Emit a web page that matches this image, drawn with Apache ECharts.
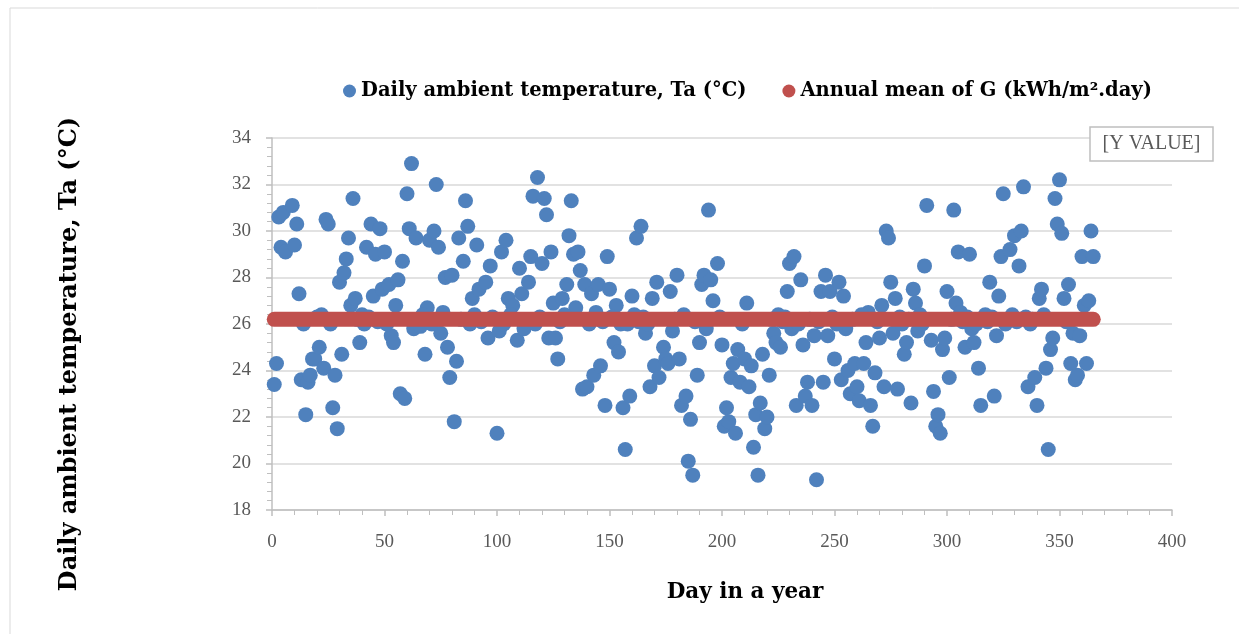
<!DOCTYPE html>
<html>
<head>
<meta charset="utf-8">
<title>Daily ambient temperature</title>
<script src="https://cdn.jsdelivr.net/npm/echarts@6/dist/echarts.min.js"></script>
<style>
  html, body { margin: 0; padding: 0; background: #fff; }
  #main { width: 1239px; height: 634px; }
</style>
</head>
<body>
<div id="main"></div>
<script>
// day of year (x) and daily ambient temperature in °C (y)
var days = [
  1, 2, 3, 4, 5, 6, 9, 10, 11, 12, 13, 14, 15, 16, 17, 18, 19, 21, 22, 23, 24, 25, 27, 28, 29, 30,
  31, 32, 33, 34, 35, 36, 37, 39, 42, 44, 45, 46, 48, 49, 50, 52, 53, 54, 55, 56, 57, 58, 59, 60,
  61, 62, 63, 64, 68, 69, 70, 72, 73, 74, 75, 77, 78, 79, 80, 81, 82, 83, 85, 86, 87, 89, 91, 92,
  95, 96, 97, 100, 101, 102, 104, 105, 107, 109, 110, 111, 112, 114, 115, 116, 118, 120, 121, 122,
  123, 124, 125, 126, 127, 129, 131, 132, 133, 134, 135, 136, 137, 138, 139, 140, 142, 143, 145,
  146, 148, 149, 150, 152, 153, 154, 155, 156, 157, 159, 160, 162, 164, 166, 168, 169, 170, 171,
  172, 174, 175, 176, 177, 178, 180, 181, 182, 184, 185, 186, 187, 189, 190, 191, 192, 193, 194,
  195, 196, 198, 200, 201, 202, 203, 204, 205, 206, 207, 208, 210, 211, 212, 213, 214, 215, 216,
  217, 218, 219, 220, 221, 223, 224, 226, 229, 230, 231, 232, 233, 235, 236, 237, 238, 240, 241,
  242, 244, 245, 246, 247, 248, 250, 252, 253, 254, 255, 256, 257, 259, 260, 261, 263, 264, 265,
  266, 267, 268, 270, 271, 272, 273, 274, 275, 276, 277, 278, 281, 282, 284, 285, 286, 287, 290,
  291, 292, 293, 294, 295, 296, 297, 298, 299, 300, 301, 303, 304, 305, 308, 310, 311, 312, 314,
  315, 319, 321, 322, 323, 324, 325, 328, 330, 332, 333, 334, 336, 339, 340, 341, 342, 344, 345,
  346, 347, 348, 349, 350, 351, 352, 354, 355, 356, 357, 358, 359, 360, 361, 362, 363, 364, 365,
  // days whose points sit mostly behind the mean line
  20, 26, 38, 40, 41, 43, 47, 51, 65, 66, 67, 71, 76, 84, 88, 90, 93, 98, 103, 106, 113, 117, 119,
  128, 130, 141, 144, 147, 151, 158, 161, 163, 165, 167, 179, 183, 188, 199, 209, 222, 225, 227,
  228, 234, 239, 243, 249, 251, 258, 262, 269, 279, 280, 283, 288, 289, 302, 306, 307, 309, 313,
  316, 317, 318, 320, 326, 327, 329, 331, 335, 337, 338, 343, 353
];
var temps = [
  23.4, 24.3, 30.6, 29.3, 30.8, 29.1, 31.1, 29.4, 30.3, 27.3, 23.6, 26.0, 22.1, 23.5, 23.8, 24.5, 24.5, 25.0, 26.4, 24.1, 30.5, 30.3, 22.4, 23.8, 21.5, 27.8,
  24.7, 28.2, 28.8, 29.7, 26.8, 31.4, 27.1, 25.2, 29.3, 30.3, 27.2, 29.0, 30.1, 27.5, 29.1, 27.7, 25.5, 25.2, 26.8, 27.9, 23.0, 28.7, 22.8, 31.6,
  30.1, 32.9, 25.8, 29.7, 24.7, 26.7, 29.6, 30.0, 32.0, 29.3, 25.6, 28.0, 25.0, 23.7, 28.1, 21.8, 24.4, 29.7, 28.7, 31.3, 30.2, 27.1, 29.4, 27.5,
  27.8, 25.4, 28.5, 21.3, 25.7, 29.1, 29.6, 27.1, 26.8, 25.3, 28.4, 27.3, 25.8, 27.8, 28.9, 31.5, 32.3, 28.6, 31.4, 30.7,
  25.4, 29.1, 26.9, 25.4, 24.5, 27.1, 27.7, 29.8, 31.3, 29.0, 26.7, 29.1, 28.3, 23.2, 27.7, 23.3, 27.3, 23.8, 27.7,
  24.2, 22.5, 28.9, 27.5, 25.2, 26.8, 24.8, 26.0, 22.4, 20.6, 22.9, 27.2, 29.7, 30.2, 25.6, 23.3, 27.1, 24.2, 27.8,
  23.7, 25.0, 24.5, 24.3, 27.4, 25.7, 28.1, 24.5, 22.5, 22.9, 20.1, 21.9, 19.5, 23.8, 25.2, 27.7, 28.1, 25.8, 30.9,
  27.9, 27.0, 28.6, 25.1, 21.6, 22.4, 21.8, 23.7, 24.3, 21.3, 24.9, 23.5, 24.5, 26.9, 23.3, 24.2, 20.7, 22.1, 19.5,
  22.6, 24.7, 21.5, 22.0, 23.8, 25.6, 25.2, 25.0, 27.4, 28.6, 25.8, 28.9, 22.5, 27.9, 25.1, 22.9, 23.5, 22.5, 25.5,
  19.3, 27.4, 23.5, 28.1, 25.5, 27.4, 24.5, 27.8, 23.6, 27.2, 25.8, 24.0, 23.0, 24.3, 23.3, 22.7, 24.3, 25.2, 26.5,
  22.5, 21.6, 23.9, 25.4, 26.8, 23.3, 30.0, 29.7, 27.8, 25.6, 27.1, 23.2, 24.7, 25.2, 22.6, 27.5, 26.9, 25.7, 28.5,
  31.1, 34.1, 25.3, 23.1, 21.6, 22.1, 21.3, 24.9, 25.4, 27.4, 23.7, 30.9, 26.9, 29.1, 25.0, 29.0, 25.8, 25.2, 24.1,
  22.5, 27.8, 22.9, 25.5, 27.2, 28.9, 31.6, 29.2, 29.8, 28.5, 30.0, 31.9, 23.3, 23.7, 22.5, 27.1, 27.5, 24.1, 20.6,
  24.9, 25.4, 31.4, 30.3, 32.2, 29.9, 27.1, 27.7, 24.3, 25.6, 23.6, 23.8, 25.5, 28.9, 26.8, 24.3, 27.0, 30.0, 28.9,
  26.3, 26.0, 26.2, 26.4, 26.0, 26.3, 26.1, 26.0, 26.1, 25.9, 26.4, 26.0, 26.5, 26.2, 26.0, 26.4, 26.1, 26.3, 26.0, 26.4, 26.1, 26.0, 26.3,
  26.1, 26.4, 26.0, 26.5, 26.1, 26.3, 26.0, 26.4, 26.1, 26.3, 26.0, 26.2, 26.4, 26.1, 26.3, 26.0, 26.2, 26.4, 26.1,
  26.3, 26.0, 26.2, 26.1, 26.3, 26.0, 26.2, 26.4, 26.1, 26.3, 26.0, 26.2, 26.4, 26.0, 26.2, 26.5, 26.1, 26.3, 26.0,
  26.2, 26.4, 26.1, 26.3, 26.0, 26.2, 26.4, 26.1, 26.3, 26.0, 26.2, 26.4, 26.1
];
// annual mean line, drawn across the year
var meanDays = [1, 365];
var meanValue = 26.2;

var xTicks = { min: 0, max: 400, step: 50 };
var yTicks = { min: 18, max: 34, step: 2 };

var seriesNames = ['Daily ambient temperature, Ta (°C)', 'Annual mean of G (kWh/m².day)'];
var xTitle = 'Day in a year';
var yTitle = 'Daily ambient temperature, Ta (°C)';

var chart = echarts.init(document.getElementById('main'));

var axisGrey = '#BFBFBF';
var labelGrey = '#595959';
var titleFont = 'DejaVu Serif';

chart.setOption({
  animation: false,
  backgroundColor: '#fff',
  graphic: [
    { // faint frame round the chart
      type: 'rect', silent: true,
      shape: { x: 10, y: 8, width: 1240, height: 640 },
      style: { fill: 'none', stroke: '#D9D9D9', lineWidth: 1 }
    },
    { // empty data-label box left over from the spreadsheet
      type: 'rect', z: 100, silent: true,
      shape: { x: 1090, y: 127, width: 123, height: 34 },
      style: { fill: '#fff', stroke: axisGrey, lineWidth: 1.5 }
    },
    {
      type: 'text', z: 101, silent: true,
      x: 1151.5, y: 144,
      style: { text: '[Y VALUE]', fill: labelGrey, font: '20px "Liberation Serif"',
               align: 'center', verticalAlign: 'middle' }
    },
    { // axis titles sit a little off the plot centre in the original
      type: 'text', silent: true,
      x: 745, y: 592,
      style: { text: xTitle, fill: '#000', font: 'bold 21.5px "DejaVu Serif"',
               align: 'center', verticalAlign: 'middle' }
    },
    {
      type: 'text', silent: true,
      x: 70, y: 354, rotation: Math.PI / 2,
      style: { text: yTitle, fill: '#000', font: 'bold 24px "DejaVu Serif"',
               align: 'center', verticalAlign: 'middle' }
    }
  ],
  legend: {
    data: seriesNames,
    left: 338,
    top: 76,
    icon: 'circle',
    itemWidth: 13,
    itemHeight: 13,
    itemGap: 36,
    textStyle: { fontFamily: titleFont, fontWeight: 'bold', fontSize: 19.5, color: '#000' }
  },
  grid: { left: 272, right: 67, top: 138, bottom: 124 },
  xAxis: {
    type: 'value',
    min: xTicks.min, max: xTicks.max, interval: xTicks.step,
    axisLine: { lineStyle: { color: axisGrey, width: 1.5 } },
    axisTick: { length: 6, lineStyle: { color: axisGrey, width: 1.5 } },
    minorTick: { show: true, splitNumber: 5, length: 5, lineStyle: { color: axisGrey } },
    splitLine: { show: false },
    axisLabel: { margin: 23, color: labelGrey, fontSize: 19, fontFamily: 'Liberation Serif' }
  },
  yAxis: {
    type: 'value',
    min: yTicks.min, max: yTicks.max, interval: yTicks.step,
    axisLine: { show: true, lineStyle: { color: axisGrey, width: 1.5 } },
    axisTick: { show: true, length: 6, lineStyle: { color: axisGrey, width: 1.5 } },
    minorTick: { show: true, splitNumber: 5, length: 5, lineStyle: { color: axisGrey } },
    splitLine: { show: true, lineStyle: { color: '#D9D9D9', width: 1.5 } },
    axisLabel: { margin: 21, color: labelGrey, fontSize: 19, fontFamily: 'Liberation Serif' }
  },
  series: [
    {
      name: seriesNames[0],
      type: 'scatter',
      symbolSize: 15,
      itemStyle: { color: '#4F81BD', opacity: 1 },
      data: days.map(function (d, i) { return [d, temps[i]]; })
    },
    {
      name: seriesNames[1],
      type: 'line',
      symbol: 'none',
      itemStyle: { color: '#C0504D' },
      lineStyle: { color: '#C0504D', width: 15, cap: 'round' },
      data: meanDays.map(function (d) { return [d, meanValue]; })
    }
  ]
});
</script>
</body>
</html>
